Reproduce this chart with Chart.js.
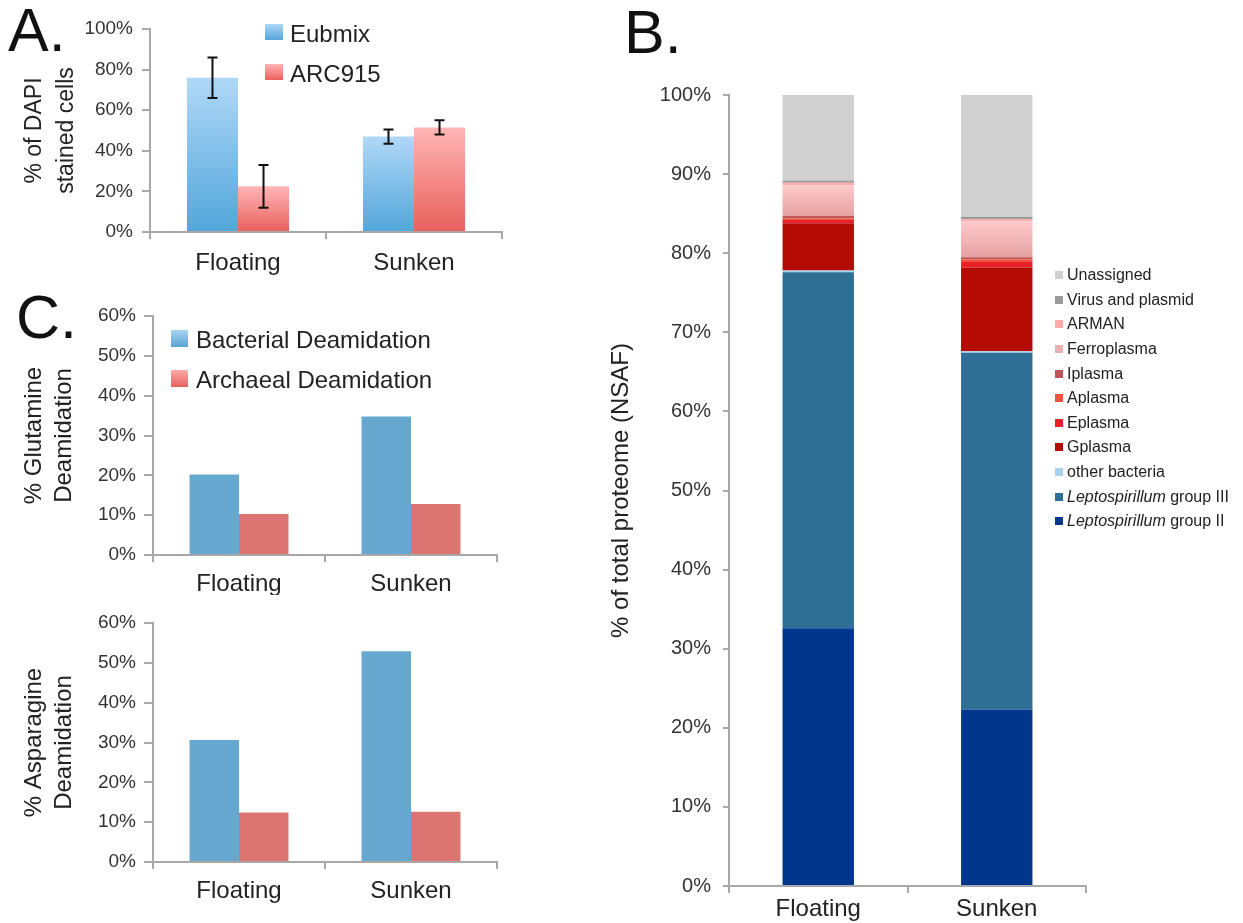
<!DOCTYPE html>
<html>
<head>
<meta charset="utf-8">
<title>Floating vs sunken biofilm</title>
<script src="https://cdn.jsdelivr.net/npm/chart.js@4.4.0/dist/chart.umd.min.js"></script>
<style>
  body { margin: 0; background: #fff; font-family: "Liberation Sans", Arial, sans-serif; color: #222; }
  #fig { position: relative; width: 1243px; height: 923px; overflow: hidden; background: #fff; }
  canvas { position: absolute; }
  .tag { position: absolute; font-size: 61px; line-height: 1; color: #111; }
  .key { position: absolute; white-space: nowrap; }
  .key .row { display: flex; align-items: center; }
  .key .sw { flex: none; }
</style>
</head>
<body>
<div id="fig">
  <canvas id="chartA" width="520" height="290" style="left:0;top:0"></canvas>
  <canvas id="chartGln" width="520" height="305" style="left:0;top:290px"></canvas>
  <canvas id="chartAsn" width="520" height="323" style="left:0;top:600px"></canvas>
  <canvas id="chartB" width="506" height="923" style="left:590px;top:0"></canvas>
  <div class="tag" style="left:8px;top:0">A.</div>
  <div class="tag" style="left:624px;top:2px">B.</div>
  <div class="tag" style="left:16px;top:287px">C.</div>
  <div id="keyA" class="key" style="left:265px;top:14px"></div>
  <div id="keyC" class="key" style="left:171px;top:320px"></div>
  <div id="keyB" class="key" style="left:1055px;top:263px"></div>
</div>
<script>
const groups = ['Floating', 'Sunken'];

// A: FISH counts
const fishProbes = ['Eubmix', 'ARC915'];
const eubmixPct = [76, 47];
const eubmixErr = [10, 3.5];
const arc915Pct = [22.5, 51.5];
const arc915Err = [10.5, 3.5];

// C: deamidation
const deamidSeries = ['Bacterial Deamidation', 'Archaeal Deamidation'];
const glnBacterial = [20.2, 34.8];
const glnArchaeal = [10.3, 12.8];
const asnBacterial = [30.6, 52.9];
const asnArchaeal = [12.4, 12.6];

// B: proteome share, bottom of the stack first
const taxa = ['Leptospirillum group II', 'Leptospirillum group III', 'other bacteria', 'Gplasma',
  'Eplasma', 'Aplasma', 'Iplasma', 'Ferroplasma', 'ARMAN', 'Virus and plasmid', 'Unassigned'];
const nsafFloating = [32.6, 45.0, 0.2, 6.0, 0.4, 0.2, 0.3, 3.9, 0.3, 0.3, 10.8];
const nsafSunken = [22.3, 45.1, 0.2, 10.6, 0.7, 0.3, 0.3, 4.5, 0.3, 0.3, 15.4];
const taxaColors = ['#00368b', '#2d6f95', '#a9d3ec', '#b40c04', '#e8202a', '#f0503c',
  '#c05555', '#e8b0b0', '#ffaaaa', '#9a9a9a', '#d0d0d0'];

const FONT = '"Liberation Sans", Arial, sans-serif';
const AXIS = '#a8a8a8';

// vertical gradient running from a bar's top down to its base
function barGradient(top, bottom) {
  return ctx => {
    const chart = ctx.chart;
    if (!chart.chartArea || ctx.type !== 'data') return bottom;
    const y = chart.scales.y;
    let base = 0;
    if (y.options.stacked) {
      for (let i = 0; i < ctx.datasetIndex; i++) base += chart.data.datasets[i].data[ctx.dataIndex];
    }
    const y0 = y.getPixelForValue(base + ctx.raw);
    const y1 = y.getPixelForValue(base);
    if (!isFinite(y0) || !isFinite(y1) || y0 === y1) return bottom;
    const g = chart.ctx.createLinearGradient(0, y0, 0, y1);
    g.addColorStop(0, top);
    g.addColorStop(1, bottom);
    return g;
  };
}

const errorBars = {
  id: 'errorBars',
  afterDatasetsDraw(chart) {
    const { ctx, scales: { y } } = chart;
    chart.data.datasets.forEach((ds, i) => {
      if (!ds.errors) return;
      chart.getDatasetMeta(i).data.forEach((bar, j) => {
        const hi = y.getPixelForValue(ds.data[j] + ds.errors[j]);
        const lo = y.getPixelForValue(ds.data[j] - ds.errors[j]);
        ctx.save();
        ctx.strokeStyle = '#111';
        ctx.lineWidth = 2;
        ctx.beginPath();
        ctx.moveTo(bar.x, hi); ctx.lineTo(bar.x, lo);
        ctx.moveTo(bar.x - 5, hi); ctx.lineTo(bar.x + 5, hi);
        ctx.moveTo(bar.x - 5, lo); ctx.lineTo(bar.x + 5, lo);
        ctx.stroke();
        ctx.restore();
      });
    });
  }
};

function axisOptions(o) {
  return {
    responsive: false,
    animation: false,
    layout: { padding: o.pad },
    plugins: { legend: { display: false }, tooltip: { enabled: false } },
    scales: {
      x: {
        stacked: !!o.stacked,
        grid: { drawOnChartArea: false, drawTicks: true, tickLength: 7, color: AXIS, lineWidth: 2, offset: true },
        border: { color: AXIS, width: 2 },
        ticks: { color: '#222', font: { size: o.xFont, family: FONT }, padding: o.xPad },
        afterFit: s => { s.height = o.xHeight; }
      },
      y: {
        stacked: !!o.stacked,
        min: 0,
        max: o.yMax,
        grid: { drawOnChartArea: false, drawTicks: true, tickLength: o.tickLen, color: AXIS, lineWidth: 2 },
        border: { color: AXIS, width: 2 },
        ticks: {
          stepSize: o.yStep,
          color: '#333',
          font: { size: o.tickFont, family: FONT },
          padding: o.tickPad,
          callback: v => v + '%'
        },
        title: {
          display: true,
          text: o.title,
          color: '#222',
          font: { size: o.titleFont, family: FONT, lineHeight: o.titleLine },
          padding: { top: o.titlePad, bottom: 0 }
        },
        afterFit: s => { s.width = o.yWidth; }
      }
    }
  };
}

// A
new Chart(document.getElementById('chartA'), {
  type: 'bar',
  data: {
    labels: groups,
    datasets: [
      { label: fishProbes[0], data: eubmixPct, errors: eubmixErr,
        backgroundColor: barGradient('#b0d8f7', '#52a6db'), categoryPercentage: 0.58, barPercentage: 1 },
      { label: fishProbes[1], data: arc915Pct, errors: arc915Err,
        backgroundColor: barGradient('#ffb6b6', '#e8605c'), categoryPercentage: 0.58, barPercentage: 1 }
    ]
  },
  options: axisOptions({
    pad: { top: 29, right: 18, left: 0, bottom: 0 }, yMax: 100, yStep: 20, yWidth: 150, xHeight: 58,
    xFont: 24, xPad: 10, tickFont: 19, tickLen: 8, tickPad: 9,
    title: ['% of DAPI', 'stained cells'], titleFont: 23, titleLine: 1.39, titlePad: 19
  }),
  plugins: [errorBars]
});

// C, glutamine
new Chart(document.getElementById('chartGln'), {
  type: 'bar',
  data: {
    labels: groups,
    datasets: [
      { label: deamidSeries[0], data: glnBacterial, backgroundColor: '#67a8d0', categoryPercentage: 0.575, barPercentage: 1 },
      { label: deamidSeries[1], data: glnArchaeal, backgroundColor: '#dc7471', categoryPercentage: 0.575, barPercentage: 1 }
    ]
  },
  options: axisOptions({
    pad: { top: 26, right: 23, left: 0, bottom: 0 }, yMax: 60, yStep: 10, yWidth: 153, xHeight: 40,
    xFont: 24, xPad: 8, tickFont: 19, tickLen: 9, tickPad: 8,
    title: ['% Glutamine', 'Deamidation'], titleFont: 24, titleLine: 1.25, titlePad: 19
  })
});

// C, asparagine
new Chart(document.getElementById('chartAsn'), {
  type: 'bar',
  data: {
    labels: groups,
    datasets: [
      { label: deamidSeries[0], data: asnBacterial, backgroundColor: '#67a8d0', categoryPercentage: 0.575, barPercentage: 1 },
      { label: deamidSeries[1], data: asnArchaeal, backgroundColor: '#dc7471', categoryPercentage: 0.575, barPercentage: 1 }
    ]
  },
  options: axisOptions({
    pad: { top: 23, right: 23, left: 0, bottom: 0 }, yMax: 60, yStep: 10, yWidth: 153, xHeight: 61,
    xFont: 24, xPad: 8, tickFont: 19, tickLen: 9, tickPad: 8,
    title: ['% Asparagine', 'Deamidation'], titleFont: 24, titleLine: 1.25, titlePad: 19
  })
});

// B
new Chart(document.getElementById('chartB'), {
  type: 'bar',
  data: {
    labels: groups,
    datasets: taxa.map((name, i) => ({
      label: name,
      data: [nsafFloating[i], nsafSunken[i]],
      backgroundColor: name === 'Ferroplasma' ? barGradient('#ffcaca', '#e6a2a2') : taxaColors[i],
      categoryPercentage: 0.4,
      barPercentage: 1
    }))
  },
  options: axisOptions({
    pad: { top: 95, right: 10, left: 0, bottom: 0 }, yMax: 100, yStep: 10, yWidth: 139, xHeight: 37,
    xFont: 24, xPad: 2, tickFont: 20, tickLen: 6, tickPad: 12, stacked: true,
    title: '% of total proteome (NSAF)', titleFont: 24, titleLine: 1.2, titlePad: 17
  })
});

// HTML keys
function buildKey(id, items, o) {
  const box = document.getElementById(id);
  items.forEach(it => {
    const row = document.createElement('div');
    row.className = 'row';
    row.style.height = o.rowH + 'px';
    row.style.fontSize = o.font + 'px';
    const sw = document.createElement('span');
    sw.className = 'sw';
    sw.style.width = o.sw[0] + 'px';
    sw.style.height = o.sw[1] + 'px';
    sw.style.marginRight = o.gap + 'px';
    sw.style.marginTop = (o.swShift || 0) + 'px';
    sw.style.background = it.fill;
    const txt = document.createElement('span');
    txt.innerHTML = it.label.replace('Leptospirillum', '<i>Leptospirillum</i>');
    row.appendChild(sw);
    row.appendChild(txt);
    box.appendChild(row);
  });
}

buildKey('keyA', [
  { label: fishProbes[0], fill: 'linear-gradient(#b0d8f7, #52a6db)' },
  { label: fishProbes[1], fill: 'linear-gradient(#ffb6b6, #e8605c)' }
], { rowH: 40, font: 24, sw: [18, 16], gap: 7, swShift: -4 });

buildKey('keyC', [
  { label: deamidSeries[0], fill: 'linear-gradient(#a9d4f2, #5aa3d3)' },
  { label: deamidSeries[1], fill: 'linear-gradient(#ffaaaa, #e4625e)' }
], { rowH: 40, font: 24, sw: [17, 17], gap: 8, swShift: -4 });

buildKey('keyB', taxa.map((name, i) => ({ label: name, fill: taxaColors[i] })).reverse(),
  { rowH: 24.6, font: 16, sw: [8, 8], gap: 4 });
</script>
</body>
</html>
